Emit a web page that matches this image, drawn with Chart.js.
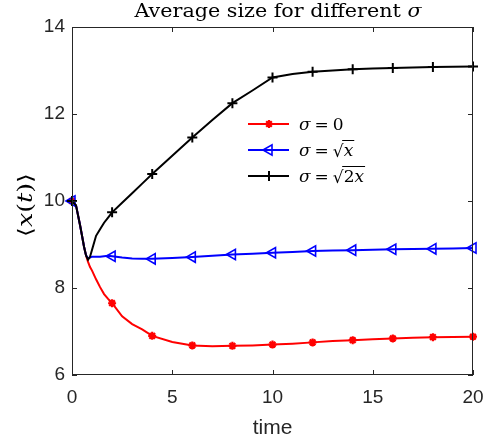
<!DOCTYPE html>
<html>
<head>
<meta charset="utf-8">
<script src="https://cdn.jsdelivr.net/npm/chart.js@4/dist/chart.umd.min.js"></script>
<style>
html,body{margin:0;padding:0;background:#fff;}
#wrap{width:484px;height:442px;}
</style>
</head>
<body>
<div id="wrap"><canvas id="c" width="484" height="442"></canvas></div>
<script>
const times = [0,0.2,0.4,0.5,0.6,0.7,0.8,0.9,1.0,1.2,1.4,1.6,1.8,2,2.5,3,3.5,4,5,6,7,8,9,10,11,12,13,14,15,16,17,18,19,20];
const sigma0 = [10,9.9,9.45,9.2,8.95,8.75,8.6,8.48,8.4,8.2,8.02,7.86,7.75,7.65,7.35,7.17,7.05,6.9,6.76,6.68,6.66,6.67,6.68,6.70,6.72,6.75,6.78,6.80,6.82,6.84,6.855,6.87,6.875,6.88];
const sigmaSqrtX = [10,9.9,9.45,9.2,8.95,8.75,8.68,8.7,8.72,8.72,8.72,8.73,8.74,8.73,8.70,8.68,8.67,8.67,8.69,8.71,8.74,8.77,8.79,8.81,8.83,8.85,8.86,8.87,8.88,8.89,8.895,8.90,8.91,8.92];
const sigmaSqrt2X = [10,9.9,9.45,9.2,8.95,8.75,8.65,8.72,8.88,9.2,9.35,9.5,9.62,9.74,9.96,10.18,10.4,10.62,11.04,11.46,11.86,12.25,12.54,12.84,12.92,12.97,13.0,13.03,13.045,13.06,13.07,13.08,13.085,13.09];
const markerTimes = [0,2,4,6,8,10,12,14,16,18,20];
const xTicks = [0,5,10,15,20];
const yTicks = [6,8,10,12,14];
const titleText = 'Average size for different ';
const xTitle = 'time';

const AX = '#262626';
const SERIF = '"DejaVu Serif", "Liberation Serif", serif';
function pts(vals){ return times.map((t,i)=>({x:t,y:vals[i]})); }
function mr(r){ return ctx => markerTimes.includes(times[ctx.dataIndex]) ? r : 0; }

const series = [
  {label:'σ = 0', data:pts(sigma0), borderColor:'#ff0000', pointStyle:'star', pointRadius:mr(4), pointBorderWidth:2.2, pointBackgroundColor:'#ff0000', pointBorderColor:'#ff0000', pointRotation:0, order:3},
  {label:'σ = √x', data:pts(sigmaSqrtX), borderColor:'#0000ff', pointStyle:'triangle', pointRadius:mr(6), pointBorderWidth:1.6, pointBackgroundColor:'rgba(0,0,0,0)', pointBorderColor:'#0000ff', pointRotation:-90, order:2},
  {label:'σ = √2x', data:pts(sigmaSqrt2X), borderColor:'#000000', pointStyle:'cross', pointRadius:mr(5), pointBorderWidth:2, pointBackgroundColor:'#000', pointBorderColor:'#000', pointRotation:0, order:1}
];
series.forEach(s=>{ s.borderWidth=2; s.fill=false; s.tension=0; s.clip=false; s.pointHoverRadius=0; });

function drawParts(c, parts, size, cx, base, targetW){
  let tot = 0;
  parts.forEach(p=>{ c.font = p[1]+size+'px '+SERIF; tot += c.measureText(p[0]).width; });
  const s = targetW ? targetW/tot : 1;
  c.save();
  c.translate(cx - tot*s/2, base);
  c.scale(s, 1);
  let x = 0;
  c.textAlign = 'left';
  parts.forEach(p=>{ c.font = p[1]+size+'px '+SERIF; c.fillText(p[0], x, 0); x += c.measureText(p[0]).width; });
  c.restore();
}

const decor = {
  id:'decor',
  afterDraw(chart){
    const c = chart.ctx, a = chart.chartArea, xs = chart.scales.x, ys = chart.scales.y;
    c.save();
    c.strokeStyle = AX; c.lineWidth = 1;
    c.strokeRect(Math.round(a.left)+0.5, Math.round(a.top)+0.5, Math.round(a.right-a.left)-1, Math.round(a.bottom-a.top)-1);
    const tl = 5;
    c.beginPath();
    xTicks.forEach(v=>{ const px = Math.round(xs.getPixelForValue(v))+0.5;
      c.moveTo(px,a.bottom); c.lineTo(px,a.bottom-tl); c.moveTo(px,a.top); c.lineTo(px,a.top+tl); });
    yTicks.forEach(v=>{ const py = Math.round(ys.getPixelForValue(v))+0.5;
      c.moveTo(a.left,py); c.lineTo(a.left+tl,py); c.moveTo(a.right,py); c.lineTo(a.right-tl,py); });
    c.stroke();

    c.fillStyle = '#000';
    c.textBaseline = 'alphabetic';
    drawParts(c, [[titleText,''],['σ','italic ']], 19, 278, 17, 287);

    c.fillStyle = AX;
    c.font = '21px "Liberation Sans", Arial, sans-serif';
    c.textAlign = 'center';
    c.fillText(xTitle, (a.left+a.right)/2, 434);

    c.fillStyle = '#000';
    c.save();
    c.translate(32, 205);
    c.rotate(-Math.PI/2);
    drawParts(c, [['⟨',''],['x','italic '],['(',''],['t','italic '],[')',''],['⟩','']], 20, 0, 0, 64);
    c.restore();

    const rows = [124, 150, 176];
    [0,1,2].forEach((di,i)=>{
      const ds = chart.data.datasets[di];
      const y = rows[i];
      c.strokeStyle = ds.borderColor; c.lineWidth = 2;
      c.beginPath(); c.moveTo(248,y); c.lineTo(289,y); c.stroke();
      const r = di===0?4:(di===1?6:5);
      c.lineWidth = ds.pointBorderWidth;
      c.fillStyle = ds.pointBackgroundColor;
      Chart.helpers.drawPoint(c, {pointStyle:ds.pointStyle, rotation:ds.pointRotation, radius:r, borderWidth:ds.pointBorderWidth}, 269, y);
      c.fillStyle = '#000';
      const base = y + 6;
      let x = 299;
      const it = 'italic 17px ' + SERIF;
      const up = '17px ' + SERIF;
      c.textAlign = 'left';
      c.font = it; c.fillText('σ', x, base); x += c.measureText('σ').width + 4;
      c.font = up; c.fillText('=', x, base); x += c.measureText('=').width + 4;
      if (di===0){ c.font = up; c.fillText('0', x, base); }
      else {
        c.font = up; c.fillText('√', x, base+1); const rw = c.measureText('√').width; x += rw - 1;
        const inner = di===1 ? [['x',it]] : [['2',up],['x',it]];
        let iw = 0; inner.forEach(p=>{ c.font=p[1]; iw += c.measureText(p[0]).width; });
        c.strokeStyle = '#000'; c.lineWidth = 1;
        c.beginPath(); c.moveTo(x-0.5, base-15.5); c.lineTo(x+iw+2, base-15.5); c.stroke();
        inner.forEach(p=>{ c.font=p[1]; c.fillText(p[0], x+1, base); x += c.measureText(p[0]).width; });
      }
    });
    c.restore();
  }
};

new Chart(document.getElementById('c'), {
  type:'line',
  data:{ datasets: series },
  options:{
    responsive:false,
    animation:false,
    devicePixelRatio:1,
    layout:{ padding:{ left:0, right:11, top:27, bottom:0 } },
    plugins:{ legend:{display:false}, title:{display:false}, tooltip:{enabled:false} },
    scales:{
      x:{ type:'linear', min:0, max:20,
        afterBuildTicks: s => { s.ticks = xTicks.map(v=>({value:v})); },
        afterFit: s => { s.height = 67; s.paddingLeft = 0; s.paddingRight = 0; },
        grid:{display:false, drawTicks:false}, border:{display:false},
        ticks:{ color:AX, padding:11, maxRotation:0, autoSkip:false, font:{family:'"Liberation Sans", Arial, sans-serif', size:19} } },
      y:{ type:'linear', min:6, max:14,
        afterBuildTicks: s => { s.ticks = yTicks.map(v=>({value:v})); },
        afterFit: s => { s.width = 72; s.paddingTop = 0; s.paddingBottom = 0; },
        grid:{display:false, drawTicks:false}, border:{display:false},
        ticks:{ color:AX, padding:7, autoSkip:false, font:{family:'"Liberation Sans", Arial, sans-serif', size:19} } }
    }
  },
  plugins:[decor]
});
</script>
</body>
</html>
